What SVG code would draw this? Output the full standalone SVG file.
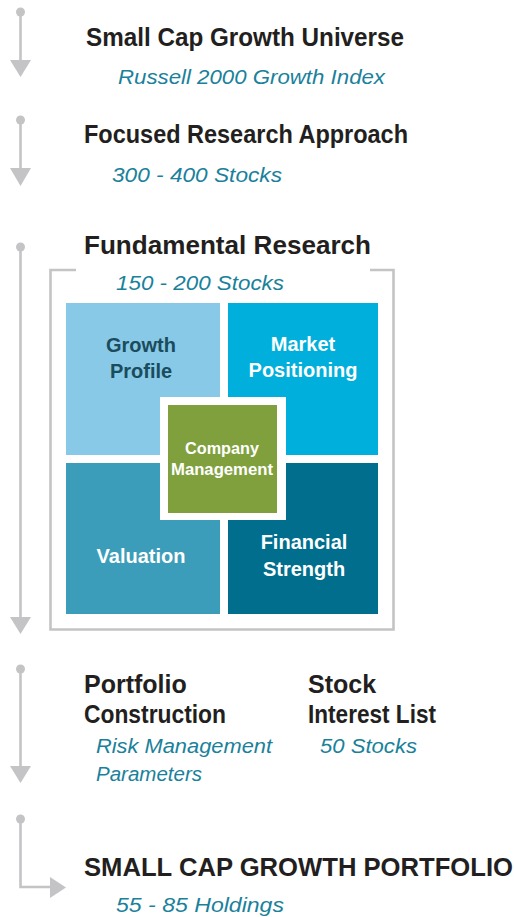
<svg xmlns="http://www.w3.org/2000/svg" width="514" height="917" viewBox="0 0 514 917">
<style>
.t{font-family:"Liberation Sans",Arial,sans-serif;font-weight:bold;font-size:25px;fill:#231f20}
.s{font-family:"Liberation Sans",Arial,sans-serif;font-style:italic;font-size:20.5px;fill:#1a819b}
.tile{font-family:"Liberation Sans",Arial,sans-serif;font-weight:bold;font-size:20px;fill:#fff;text-anchor:middle}
.c{stroke:#c4c4c6;stroke-width:2.6;fill:none}
.dot{fill:#c4c4c6}
.head{fill:#c4c4c6}
</style>
<rect width="514" height="917" fill="#fff"/>
<g id="connectors">
  <circle class="dot" cx="20.5" cy="12" r="4.5"/>
  <line class="c" x1="20.5" y1="12" x2="20.5" y2="62"/>
  <polygon class="head" points="10,60 31,60 20.5,77"/>
  <circle class="dot" cx="20.5" cy="120" r="4.5"/>
  <line class="c" x1="20.5" y1="120" x2="20.5" y2="170"/>
  <polygon class="head" points="10,168 31,168 20.5,186"/>
  <circle class="dot" cx="20.5" cy="247" r="4.5"/>
  <line class="c" x1="20.5" y1="247" x2="20.5" y2="619"/>
  <polygon class="head" points="10,617 31,617 20.5,634"/>
  <circle class="dot" cx="20.5" cy="669" r="4.5"/>
  <line class="c" x1="20.5" y1="669" x2="20.5" y2="768"/>
  <polygon class="head" points="10,766 31,766 20.5,783"/>
  <circle class="dot" cx="20.5" cy="819" r="4.5"/>
  <polyline class="c" points="20.5,819 20.5,887 52,887"/>
  <polygon class="head" points="50,877 50,898 66,887.5"/>
</g>
<g id="universe">
  <text class="t" x="86" y="46" textLength="318" lengthAdjust="spacingAndGlyphs">Small Cap Growth Universe</text>
  <text class="s" x="118" y="84" textLength="267" lengthAdjust="spacingAndGlyphs">Russell 2000 Growth Index</text>
</g>
<g id="focused">
  <text class="t" x="84" y="143" textLength="324" lengthAdjust="spacingAndGlyphs">Focused Research Approach</text>
  <text class="s" x="112" y="182" textLength="170" lengthAdjust="spacingAndGlyphs">300 - 400 Stocks</text>
</g>
<g id="fundamental">
  <text class="t" x="84" y="254" textLength="287" lengthAdjust="spacingAndGlyphs">Fundamental Research</text>
  <text class="s" x="116" y="290" textLength="168" lengthAdjust="spacingAndGlyphs">150 - 200 Stocks</text>
  <polyline class="c" stroke-width="3" points="76,270 50.5,270 50.5,629.5 393.5,629.5 393.5,270 370,270"/>
</g>
<g id="growth-profile">
  <rect x="66" y="303" width="154" height="152" fill="#88c9e8"/>
  <text class="tile" x="141" y="352" style="fill:#1b4c5c">Growth</text>
  <text class="tile" x="141" y="378" style="fill:#1b4c5c">Profile</text>
</g>
<g id="market-positioning">
  <rect x="228" y="303" width="150" height="152" fill="#00afdb"/>
  <text class="tile" x="303" y="351">Market</text>
  <text class="tile" x="303" y="377">Positioning</text>
</g>
<g id="valuation">
  <rect x="66" y="463" width="154" height="151" fill="#3b9db9"/>
  <text class="tile" x="141" y="563">Valuation</text>
</g>
<g id="financial-strength">
  <rect x="228" y="463" width="150" height="151" fill="#006e8c"/>
  <text class="tile" x="304" y="549">Financial</text>
  <text class="tile" x="304" y="576">Strength</text>
</g>
<g id="company-management">
  <rect x="160" y="397" width="126" height="123" fill="#fff"/>
  <rect x="168" y="405" width="109" height="108" fill="#80a03e"/>
  <text class="tile" x="222" y="454" style="font-size:17px" textLength="74" lengthAdjust="spacingAndGlyphs">Company</text>
  <text class="tile" x="222" y="475" style="font-size:17px" textLength="102" lengthAdjust="spacingAndGlyphs">Management</text>
</g>
<g id="portfolio-construction">
  <text class="t" x="84" y="693">Portfolio</text>
  <text class="t" x="84" y="723" textLength="142" lengthAdjust="spacingAndGlyphs">Construction</text>
  <text class="s" x="96" y="753" textLength="176" lengthAdjust="spacingAndGlyphs">Risk Management</text>
  <text class="s" x="96" y="781">Parameters</text>
</g>
<g id="stock-interest-list">
  <text class="t" x="308" y="693">Stock</text>
  <text class="t" x="308" y="723" textLength="128" lengthAdjust="spacingAndGlyphs">Interest List</text>
  <text class="s" x="320" y="753" textLength="97" lengthAdjust="spacingAndGlyphs">50 Stocks</text>
</g>
<g id="portfolio">
  <text class="t" x="84" y="876" textLength="429" lengthAdjust="spacingAndGlyphs">SMALL CAP GROWTH PORTFOLIO</text>
  <text class="s" x="116" y="912" textLength="168" lengthAdjust="spacingAndGlyphs">55 - 85 Holdings</text>
</g>
</svg>
